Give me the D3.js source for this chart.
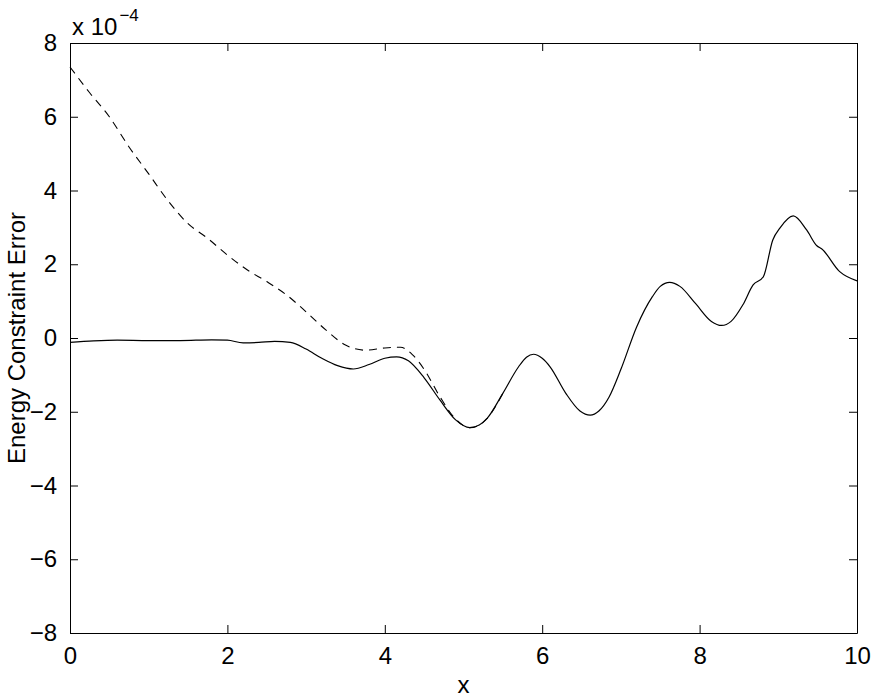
<!DOCTYPE html>
<html>
<head>
<meta charset="utf-8">
<script src="https://cdn.jsdelivr.net/npm/d3@7"></script>
<style>
  body { margin: 0; background: #fff; }
  text { font-family: "Liberation Sans", Arial, sans-serif; fill: #000; }
</style>
</head>
<body>
<div id="chart"></div>
<script>
// solid curve (x, value in 1e-4 units)
var solidX = [0, 0.3, 0.6, 1.0, 1.4, 1.8, 2.0, 2.2, 2.4, 2.6, 2.8, 3.0, 3.2, 3.4, 3.6, 3.8, 4.0, 4.15, 4.3, 4.5, 4.7, 4.9, 5.08, 5.2, 5.3, 5.5, 5.7, 5.8, 5.89, 6.0, 6.1, 6.3, 6.48, 6.61, 6.72, 6.85, 7.0, 7.2, 7.4, 7.5, 7.62, 7.75, 7.95, 8.15, 8.28, 8.4, 8.55, 8.68, 8.81, 8.93, 9.02, 9.19, 9.36, 9.49, 9.55, 9.78, 10];
var solidY = [-0.12, -0.08, -0.06, -0.07, -0.07, -0.05, -0.06, -0.13, -0.12, -0.09, -0.12, -0.3, -0.55, -0.75, -0.84, -0.72, -0.55, -0.51, -0.62, -1.08, -1.68, -2.22, -2.43, -2.36, -2.18, -1.5, -0.78, -0.52, -0.44, -0.55, -0.78, -1.5, -1.98, -2.09, -1.98, -1.6, -0.85, 0.3, 1.12, 1.4, 1.51, 1.4, 0.93, 0.45, 0.34, 0.45, 0.9, 1.44, 1.66, 2.66, 2.98, 3.31, 2.93, 2.5, 2.42, 1.8, 1.55];

// dashed curve, merges with the solid one after x ~ 5
var dashX = [0, 0.25, 0.5, 0.75, 1.0, 1.25, 1.5, 1.75, 2.0, 2.25, 2.5, 2.75, 3.0, 3.25, 3.5, 3.75, 4.0, 4.2, 4.35, 4.5, 4.7, 4.9, 5.08, 5.2, 5.3, 5.5];
var dashY = [7.35, 6.65, 6.0, 5.18, 4.45, 3.71, 3.1, 2.7, 2.25, 1.85, 1.53, 1.17, 0.71, 0.22, -0.19, -0.33, -0.27, -0.25, -0.45, -0.85, -1.59, -2.2, -2.43, -2.36, -2.18, -1.5];

var xTicks = [0, 2, 4, 6, 8, 10];
var yTicks = [-8, -6, -4, -2, 0, 2, 4, 6, 8];

var margin = {top: 43, right: 22, bottom: 66, left: 70},
    width = 879 - margin.left - margin.right,
    height = 699 - margin.top - margin.bottom;

var svg = d3.select("#chart")
    .append("svg")
    .attr("width", 879)
    .attr("height", 699);

var g = svg.append("g")
    .attr("transform", "translate(" + margin.left + "," + margin.top + ")");

var x = d3.scaleLinear().domain([0, 10]).range([0, width]);
var y = d3.scaleLinear().domain([-8, 8]).range([height, 0]);

var fmt = function (d) { return d < 0 ? "\u2212" + Math.abs(d) : String(d); };

// axes, ticks inside, mirrored on top/right
function styleAxis(sel) {
    sel.select(".domain").attr("stroke", "#000").attr("stroke-width", 1);
    sel.selectAll(".tick line").attr("stroke", "#000");
    sel.selectAll(".tick text").style("font-size", "24px").attr("fill", "#000");
}

g.append("g")
    .attr("transform", "translate(0," + height + ")")
    .call(d3.axisBottom(x).tickValues(xTicks).tickSize(-8).tickSizeOuter(0).tickPadding(14).tickFormat(fmt))
    .call(styleAxis)
    .selectAll(".tick text").attr("dy", "0.71em");

g.append("g")
    .call(d3.axisTop(x).tickValues(xTicks).tickSize(-8).tickSizeOuter(0).tickFormat(""))
    .call(styleAxis);

g.append("g")
    .call(d3.axisLeft(y).tickValues(yTicks).tickSize(-8).tickSizeOuter(0).tickPadding(13).tickFormat(fmt))
    .call(styleAxis);

g.append("g")
    .attr("transform", "translate(" + width + ",0)")
    .call(d3.axisRight(y).tickValues(yTicks).tickSize(-8).tickSizeOuter(0).tickFormat(""))
    .call(styleAxis);

// lines
var line = d3.line()
    .x(function (d) { return x(d[0]); })
    .y(function (d) { return y(d[1]); })
    .curve(d3.curveMonotoneX);

g.append("path")
    .datum(d3.zip(dashX, dashY))
    .attr("d", line)
    .attr("fill", "none")
    .attr("stroke", "#000")
    .attr("stroke-width", 1.1)
    .attr("stroke-dasharray", "8,6");

g.append("path")
    .datum(d3.zip(solidX, solidY))
    .attr("d", line)
    .attr("fill", "none")
    .attr("stroke", "#000")
    .attr("stroke-width", 1.2);

// exponent label
var expo = svg.append("text")
    .attr("x", 72)
    .attr("y", 35)
    .style("font-size", "24px");
expo.append("tspan").text("x 10");
expo.append("tspan")
    .attr("dy", -14)
    .attr("dx", 2)
    .style("font-size", "17px")
    .text("\u22124");

// axis labels
svg.append("text")
    .attr("x", margin.left + width / 2)
    .attr("y", 693)
    .attr("text-anchor", "middle")
    .style("font-size", "24px")
    .text("x");

svg.append("text")
    .attr("transform", "translate(25," + (margin.top + height / 2) + ") rotate(-90)")
    .attr("text-anchor", "middle")
    .style("font-size", "24px")
    .text("Energy Constraint Error");
</script>
</body>
</html>
